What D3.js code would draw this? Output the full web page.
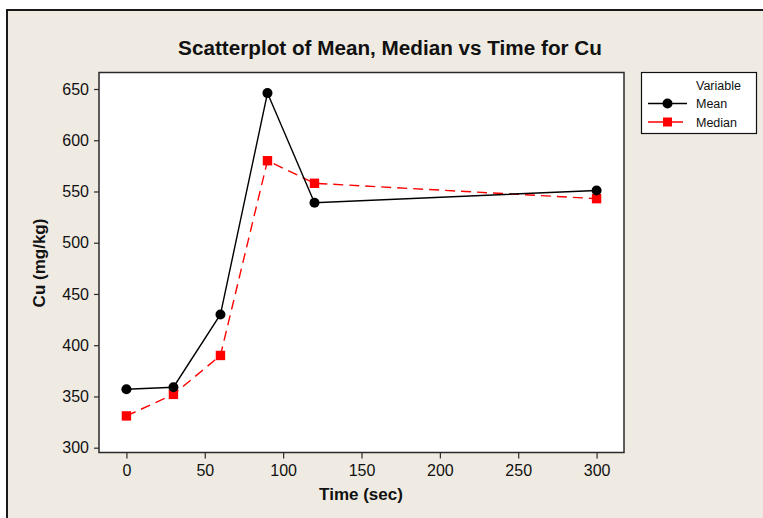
<!DOCTYPE html>
<html><head><meta charset="utf-8">
<script src="https://cdn.jsdelivr.net/npm/d3@7"></script>
<style>
html,body{margin:0;padding:0;background:#fff;}
svg{display:block;}
</style></head>
<body>
<svg id="chart" width="763" height="518"></svg>
<script>
const times = [0, 30, 60, 90, 120, 300];
const meanValues = [357, 359, 430, 646, 539, 551];
const medianValues = [331, 352, 390, 580, 558, 543];
const xTicks = [0, 50, 100, 150, 200, 250, 300];
const yTicks = [300, 350, 400, 450, 500, 550, 600, 650];
const titleText = "Scatterplot of Mean, Median vs Time for Cu";
const xLabel = "Time (sec)";
const yLabel = "Cu (mg/kg)";
const legendTitle = "Variable";
const seriesNames = ["Mean", "Median"];

const svg = d3.select("#chart");
const font = "'Liberation Sans', Arial, sans-serif";

// outer panel
svg.append("rect").attr("x", 7).attr("y", 10).attr("width", 770).attr("height", 520)
  .attr("fill", "#efebe2").attr("stroke", "#1a1a1a").attr("stroke-width", 2);

const plot = {left: 99, right: 624, top: 72.5, bottom: 452.5};
const x = d3.scaleLinear().domain([-17.5, 317.5]).range([plot.left, plot.right]);
const y = d3.scaleLinear().domain([295.3, 666.1]).range([plot.bottom, plot.top]);

svg.append("rect").attr("x", plot.left).attr("y", plot.top)
  .attr("width", plot.right - plot.left).attr("height", plot.bottom - plot.top)
  .attr("fill", "#fff").attr("stroke", "#2a2a2a").attr("stroke-width", 1.5);

// axes
const xAxis = svg.append("g").attr("transform", `translate(0,${plot.bottom})`)
  .call(d3.axisBottom(x).tickValues(xTicks).tickSize(6).tickPadding(4).tickFormat(d3.format("d")));
const yAxis = svg.append("g").attr("transform", `translate(${plot.left},0)`)
  .call(d3.axisLeft(y).tickValues(yTicks).tickSize(5).tickPadding(5).tickFormat(d3.format("d")));
[xAxis, yAxis].forEach(g => {
  g.select(".domain").remove();
  g.selectAll(".tick line").attr("stroke", "#2a2a2a").attr("stroke-width", 1.2);
  g.selectAll(".tick text").attr("fill", "#111").style("font-family", font).style("font-size", "16px");
});
xAxis.selectAll(".tick text").attr("dy", "0.71em").attr("y", 12);

// lines
const line = d3.line().x(d => x(d[0])).y(d => y(d[1]));
const meanData = times.map((t, i) => [t, meanValues[i]]);
const medianData = times.map((t, i) => [t, medianValues[i]]);

svg.append("path").datum(medianData).attr("d", line).attr("fill", "none")
  .attr("stroke", "#ff0000").attr("stroke-width", 1.4).attr("stroke-dasharray", "10,6");
svg.append("path").datum(meanData).attr("d", line).attr("fill", "none")
  .attr("stroke", "#000").attr("stroke-width", 1.4);

svg.selectAll(".sq").data(medianData).enter().append("rect")
  .attr("x", d => x(d[0]) - 4.7).attr("y", d => y(d[1]) - 4.7)
  .attr("width", 9.4).attr("height", 9.4).attr("fill", "#ff0000");
svg.selectAll(".dot").data(meanData).enter().append("circle")
  .attr("cx", d => x(d[0])).attr("cy", d => y(d[1])).attr("r", 5).attr("fill", "#000");

// title and labels
svg.append("text").attr("x", 390).attr("y", 55).attr("text-anchor", "middle")
  .style("font-family", font).style("font-weight", "bold").style("font-size", "20.7px")
  .attr("fill", "#111").text(titleText);
svg.append("text").attr("x", 361).attr("y", 499.5).attr("text-anchor", "middle")
  .style("font-family", font).style("font-weight", "bold").style("font-size", "17px")
  .attr("fill", "#111").text(xLabel);
svg.append("text").attr("transform", "translate(45,263) rotate(-90)").attr("text-anchor", "middle")
  .style("font-family", font).style("font-weight", "bold").style("font-size", "17px")
  .attr("fill", "#111").text(yLabel);

// legend
const lg = svg.append("g");
lg.append("rect").attr("x", 641.5).attr("y", 72.5).attr("width", 115).attr("height", 61)
  .attr("fill", "#fff").attr("stroke", "#111").attr("stroke-width", 1.2);
lg.append("text").attr("x", 696).attr("y", 90).style("font-family", font).style("font-size", "12.5px")
  .attr("fill", "#111").text(legendTitle);
const rows = [
  {name: seriesNames[0], y: 103.5, color: "#000", x2: 687},
  {name: seriesNames[1], y: 122, color: "#ff0000", x2: 683}
];
rows.forEach((r, i) => {
  lg.append("line").attr("x1", 648).attr("x2", r.x2).attr("y1", r.y).attr("y2", r.y)
    .attr("stroke", r.color).attr("stroke-width", 1.3);
  if (i === 0) {
    lg.append("circle").attr("cx", 667.5).attr("cy", r.y).attr("r", 5).attr("fill", r.color);
  } else {
    lg.append("rect").attr("x", 663).attr("y", r.y - 4.5).attr("width", 9).attr("height", 9).attr("fill", r.color);
  }
  lg.append("text").attr("x", 696).attr("y", r.y + 4.5).style("font-family", font).style("font-size", "12.5px")
    .attr("fill", "#111").text(r.name);
});
</script>
</body></html>
